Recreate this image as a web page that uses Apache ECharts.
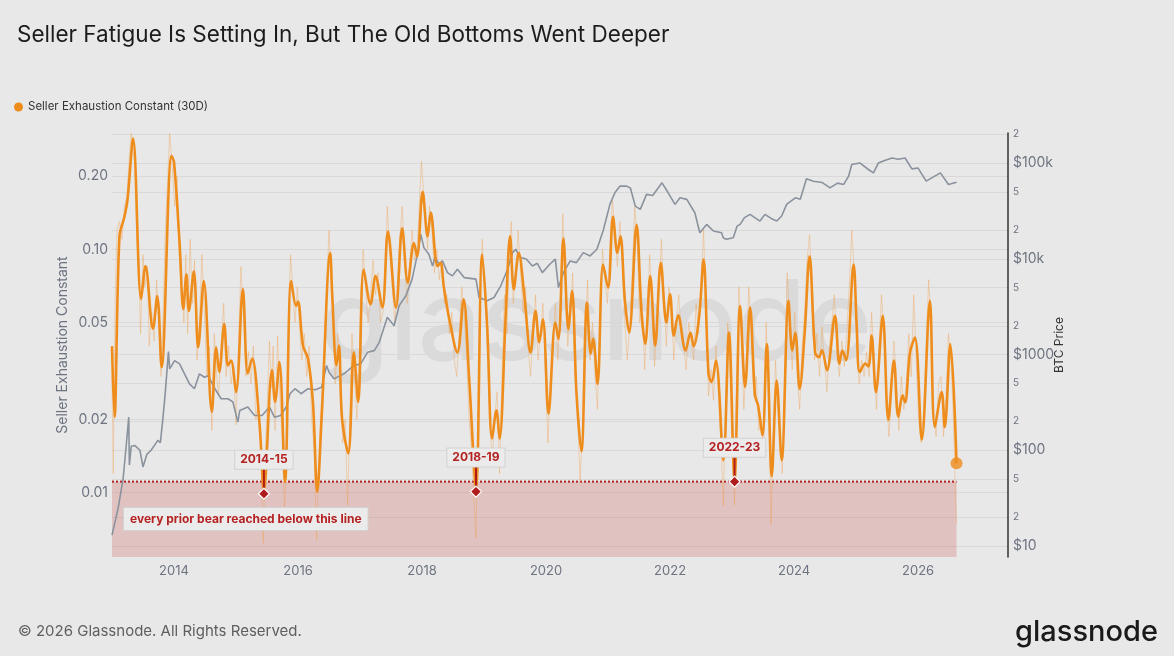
<!DOCTYPE html>
<html>
<head>
<meta charset="utf-8">
<title>Seller Fatigue</title>
<script src="https://cdn.jsdelivr.net/npm/echarts@6/dist/echarts.min.js"></script>
<style>
  html, body { margin: 0; padding: 0; background: #e8e8e8; }
  #chart { width: 1174px; height: 656px; }
</style>
</head>
<body>
<div id="chart"></div>
<script>
// Seller Exhaustion Constant, 30D smoothed (decimal year, value)
const SEC_30D = [
  [2013.00,0.040],[2013.04,0.0205],[2013.12,0.113],[2013.20,0.136],[2013.25,0.160],[2013.34,0.285],
  [2013.47,0.0625],[2013.54,0.0853],[2013.66,0.0472],[2013.73,0.0643],[2013.80,0.0328],[2013.96,0.242],
  [2014.00,0.228],[2014.09,0.106],[2014.15,0.0569],[2014.20,0.079],[2014.24,0.0558],[2014.32,0.0813],
  [2014.39,0.0396],[2014.48,0.074],[2014.61,0.0215],[2014.68,0.0396],[2014.73,0.0313],[2014.81,0.0493],
  [2014.87,0.0333],[2014.92,0.0349],[2015.00,0.0259],[2015.11,0.0687],[2015.19,0.0309],[2015.26,0.0356],
  [2015.38,0.0190],[2015.45,0.0102],[2015.58,0.0318],[2015.63,0.0236],[2015.70,0.0344],[2015.79,0.0111],
  [2015.89,0.074],[2015.97,0.0585],[2016.00,0.061],[2016.08,0.0402],[2016.16,0.0356],[2016.24,0.0236],
  [2016.31,0.0101],[2016.38,0.0202],[2016.52,0.0966],[2016.55,0.0663],[2016.62,0.0333],[2016.66,0.0402],
  [2016.71,0.0202],[2016.81,0.0145],[2016.90,0.0377],[2016.97,0.0236],[2017.06,0.0826],[2017.17,0.0595],
  [2017.25,0.0776],[2017.36,0.0576],[2017.45,0.1184],[2017.58,0.0576],[2017.68,0.122],[2017.77,0.0729],
  [2017.87,0.106],[2017.92,0.0935],[2018.01,0.1725],[2018.09,0.113],[2018.14,0.1416],[2018.25,0.0853],
  [2018.30,0.088],[2018.35,0.0706],[2018.44,0.0516],[2018.57,0.0377],[2018.67,0.0623],[2018.76,0.0294],
  [2018.87,0.0104],[2018.97,0.0951],[2019.05,0.0485],[2019.13,0.0167],[2019.20,0.0218],[2019.25,0.0167],
  [2019.35,0.0541],[2019.42,0.113],[2019.48,0.0685],[2019.56,0.0966],[2019.65,0.0643],[2019.75,0.0377],
  [2019.83,0.0558],[2019.89,0.0415],[2019.95,0.0516],[2020.04,0.0211],[2020.15,0.050],[2020.20,0.0428],
  [2020.28,0.111],[2020.36,0.047],[2020.42,0.0674],[2020.49,0.0259],[2020.57,0.0148],[2020.66,0.0604],
  [2020.72,0.0372],[2020.76,0.043],[2020.83,0.0280],[2020.92,0.0866],[2021.00,0.0695],[2021.08,0.136],
  [2021.15,0.0966],[2021.20,0.113],[2021.27,0.0623],[2021.34,0.0455],[2021.46,0.126],[2021.54,0.0549],
  [2021.60,0.0408],[2021.68,0.0776],[2021.76,0.0402],[2021.85,0.088],[2021.94,0.050],[2022.00,0.0653],
  [2022.06,0.0442],[2022.13,0.0536],[2022.25,0.0384],[2022.33,0.0455],[2022.38,0.040],[2022.47,0.0533],
  [2022.54,0.0908],[2022.62,0.0308],[2022.67,0.0285],[2022.74,0.0349],[2022.86,0.0136],[2022.95,0.0455],
  [2023.04,0.0113],[2023.13,0.0585],[2023.21,0.0272],[2023.29,0.0576],[2023.37,0.0251],[2023.42,0.0228],
  [2023.49,0.0172],[2023.56,0.0408],[2023.64,0.0117],[2023.72,0.0289],[2023.80,0.0136],[2023.91,0.0614],
  [2023.97,0.0384],[2024.02,0.0455],[2024.09,0.0267],[2024.17,0.045],[2024.25,0.0935],[2024.34,0.0377],
  [2024.40,0.0360],[2024.45,0.0385],[2024.53,0.0318],[2024.66,0.0533],[2024.73,0.0339],[2024.78,0.0384],
  [2024.84,0.035],[2024.96,0.0866],[2025.01,0.0485],[2025.06,0.0313],[2025.15,0.0339],[2025.20,0.033],
  [2025.25,0.0442],[2025.32,0.0259],[2025.43,0.0533],[2025.52,0.0199],[2025.61,0.0349],[2025.68,0.0205],
  [2025.75,0.0251],[2025.79,0.0235],[2025.87,0.0377],[2025.95,0.0434],[2026.06,0.0165],[2026.19,0.0614],
  [2026.27,0.0186],[2026.38,0.0259],[2026.43,0.0186],[2026.52,0.0408],[2026.62,0.0132]
];

// raw daily values (faint line)
const SEC_RAW = [
  [2013.00,0.030],[2013.02,0.012],[2013.05,0.060],[2013.08,0.120],[2013.12,0.130],[2013.16,0.110],
  [2013.20,0.150],[2013.24,0.165],[2013.28,0.240],[2013.31,0.300],[2013.34,0.300],[2013.37,0.220],
  [2013.40,0.110],[2013.43,0.090],[2013.46,0.045],[2013.50,0.095],[2013.53,0.070],[2013.57,0.085],
  [2013.60,0.040],[2013.64,0.055],[2013.68,0.042],[2013.72,0.075],[2013.76,0.045],[2013.79,0.030],
  [2013.83,0.060],[2013.86,0.120],[2013.90,0.200],[2013.93,0.300],[2013.97,0.220],[2014.01,0.150],
  [2014.05,0.200],[2014.08,0.100],[2014.12,0.070],[2014.16,0.050],[2014.19,0.095],[2014.22,0.045],
  [2014.26,0.110],[2014.30,0.060],[2014.33,0.090],[2014.37,0.035],[2014.41,0.050],[2014.45,0.095],
  [2014.49,0.055],[2014.53,0.030],[2014.57,0.040],[2014.61,0.018],[2014.65,0.045],[2014.69,0.030],
  [2014.72,0.025],[2014.76,0.040],[2014.80,0.060],[2014.84,0.030],[2014.88,0.040],[2014.92,0.028],
  [2014.96,0.033],[2015.00,0.019],[2015.04,0.040],[2015.08,0.085],[2015.12,0.055],[2015.16,0.030],
  [2015.20,0.038],[2015.24,0.028],[2015.28,0.040],[2015.32,0.020],[2015.36,0.024],[2015.40,0.015],
  [2015.44,0.0062],[2015.47,0.014],[2015.50,0.022],[2015.54,0.042],[2015.57,0.027],[2015.60,0.040],
  [2015.63,0.018],[2015.67,0.044],[2015.71,0.024],[2015.75,0.016],[2015.78,0.0085],[2015.81,0.012],
  [2015.85,0.060],[2015.88,0.095],[2015.92,0.065],[2015.95,0.050],[2015.99,0.070],[2016.02,0.050],
  [2016.06,0.035],[2016.10,0.045],[2016.14,0.030],[2016.18,0.040],[2016.22,0.020],[2016.26,0.015],
  [2016.30,0.0064],[2016.33,0.012],[2016.37,0.022],[2016.41,0.030],[2016.45,0.060],[2016.50,0.120],
  [2016.53,0.080],[2016.57,0.055],[2016.60,0.028],[2016.64,0.045],[2016.68,0.030],[2016.72,0.016],
  [2016.76,0.020],[2016.80,0.0089],[2016.83,0.018],[2016.87,0.045],[2016.91,0.030],[2016.95,0.020],
  [2016.98,0.030],[2017.02,0.070],[2017.05,0.100],[2017.09,0.070],[2017.13,0.050],[2017.17,0.065],
  [2017.21,0.090],[2017.25,0.065],[2017.29,0.080],[2017.33,0.050],[2017.37,0.055],[2017.41,0.090],
  [2017.44,0.150],[2017.48,0.100],[2017.52,0.070],[2017.56,0.050],[2017.60,0.070],[2017.64,0.110],
  [2017.68,0.150],[2017.72,0.090],[2017.76,0.060],[2017.80,0.085],[2017.84,0.120],[2017.88,0.090],
  [2017.92,0.100],[2017.95,0.140],[2017.99,0.230],[2018.02,0.180],[2018.06,0.130],[2018.09,0.100],
  [2018.12,0.150],[2018.16,0.120],[2018.20,0.080],[2018.24,0.100],[2018.28,0.075],[2018.32,0.090],
  [2018.36,0.060],[2018.40,0.065],[2018.44,0.045],[2018.48,0.055],[2018.52,0.035],[2018.56,0.030],
  [2018.60,0.045],[2018.64,0.070],[2018.68,0.055],[2018.72,0.035],[2018.76,0.020],[2018.80,0.015],
  [2018.84,0.009],[2018.87,0.0065],[2018.90,0.020],[2018.94,0.060],[2018.97,0.110],[2019.01,0.070],
  [2019.05,0.040],[2019.09,0.022],[2019.13,0.013],[2019.17,0.020],[2019.21,0.026],[2019.25,0.012],
  [2019.29,0.030],[2019.33,0.065],[2019.37,0.045],[2019.41,0.100],[2019.44,0.130],[2019.47,0.060],
  [2019.51,0.080],[2019.55,0.120],[2019.59,0.080],[2019.63,0.055],[2019.67,0.070],[2019.71,0.040],
  [2019.75,0.030],[2019.79,0.045],[2019.83,0.065],[2019.87,0.035],[2019.91,0.045],[2019.95,0.060],
  [2019.99,0.030],[2020.03,0.016],[2020.07,0.028],[2020.11,0.040],[2020.15,0.060],[2020.19,0.035],
  [2020.23,0.060],[2020.27,0.140],[2020.31,0.075],[2020.35,0.040],[2020.39,0.055],[2020.43,0.080],
  [2020.47,0.030],[2020.51,0.020],[2020.55,0.011],[2020.59,0.020],[2020.63,0.045],[2020.67,0.075],
  [2020.71,0.035],[2020.75,0.050],[2020.79,0.030],[2020.83,0.022],[2020.87,0.050],[2020.91,0.100],
  [2020.95,0.075],[2020.99,0.060],[2021.03,0.100],[2021.07,0.160],[2021.11,0.120],[2021.15,0.085],
  [2021.19,0.130],[2021.23,0.090],[2021.27,0.050],[2021.31,0.035],[2021.35,0.050],[2021.39,0.080],
  [2021.43,0.150],[2021.47,0.110],[2021.51,0.050],[2021.55,0.060],[2021.59,0.032],[2021.63,0.050],
  [2021.67,0.095],[2021.71,0.060],[2021.75,0.033],[2021.79,0.050],[2021.83,0.075],[2021.86,0.110],
  [2021.90,0.065],[2021.94,0.040],[2021.98,0.070],[2022.02,0.060],[2022.06,0.035],[2022.10,0.050],
  [2022.14,0.065],[2022.18,0.045],[2022.22,0.040],[2022.26,0.032],[2022.30,0.050],[2022.34,0.042],
  [2022.38,0.035],[2022.42,0.060],[2022.46,0.045],[2022.50,0.070],[2022.54,0.120],[2022.58,0.060],
  [2022.62,0.025],[2022.66,0.032],[2022.70,0.024],[2022.74,0.040],[2022.78,0.025],[2022.82,0.016],
  [2022.86,0.0088],[2022.89,0.020],[2022.93,0.050],[2022.96,0.035],[2023.00,0.016],[2023.04,0.0089],
  [2023.07,0.025],[2023.11,0.070],[2023.15,0.045],[2023.19,0.022],[2023.23,0.035],[2023.27,0.070],
  [2023.31,0.045],[2023.35,0.025],[2023.39,0.030],[2023.43,0.018],[2023.47,0.020],[2023.51,0.014],
  [2023.55,0.050],[2023.59,0.025],[2023.63,0.0074],[2023.66,0.015],[2023.70,0.035],[2023.74,0.022],
  [2023.78,0.016],[2023.81,0.012],[2023.85,0.030],[2023.89,0.080],[2023.93,0.050],[2023.97,0.032],
  [2024.01,0.055],[2024.05,0.030],[2024.09,0.022],[2024.13,0.040],[2024.17,0.055],[2024.21,0.090],
  [2024.25,0.115],[2024.29,0.070],[2024.33,0.035],[2024.37,0.045],[2024.41,0.030],[2024.45,0.048],
  [2024.49,0.035],[2024.53,0.026],[2024.57,0.040],[2024.61,0.050],[2024.65,0.065],[2024.69,0.040],
  [2024.73,0.030],[2024.77,0.042],[2024.81,0.033],[2024.85,0.045],[2024.89,0.070],[2024.93,0.120],
  [2024.97,0.080],[2025.01,0.040],[2025.05,0.028],[2025.09,0.035],[2025.13,0.030],[2025.17,0.038],
  [2025.21,0.030],[2025.25,0.055],[2025.29,0.035],[2025.33,0.022],[2025.37,0.040],[2025.41,0.065],
  [2025.45,0.045],[2025.49,0.025],[2025.53,0.017],[2025.57,0.025],[2025.61,0.042],[2025.65,0.030],
  [2025.69,0.018],[2025.73,0.030],[2025.77,0.022],[2025.81,0.028],[2025.85,0.045],[2025.89,0.030],
  [2025.93,0.065],[2025.97,0.035],[2026.01,0.020],[2026.05,0.016],[2026.09,0.022],[2026.13,0.040],
  [2026.17,0.075],[2026.21,0.050],[2026.25,0.022],[2026.29,0.017],[2026.33,0.028],[2026.37,0.030],
  [2026.41,0.017],[2026.45,0.025],[2026.49,0.045],[2026.53,0.035],[2026.57,0.020],[2026.60,0.010],
  [2026.62,0.0075]
];

// BTC price in USD (decimal year, price)
const BTC_PRICE = [
  [2013.00,13],[2013.10,25],[2013.18,51],[2013.23,113],[2013.27,222],[2013.28,70],[2013.31,110],
  [2013.37,112],[2013.45,100],[2013.50,67],[2013.56,90],[2013.63,100],[2013.74,127],[2013.78,120],
  [2013.82,213],[2013.86,405],[2013.91,1075],[2013.93,710],[2014.01,866],[2014.09,800],[2014.17,630],
  [2014.25,495],[2014.33,440],[2014.41,630],[2014.49,580],[2014.55,600],[2014.66,440],[2014.76,346],
  [2014.87,346],[2014.95,320],[2015.03,197],[2015.06,261],[2015.19,283],[2015.30,231],[2015.42,231],
  [2015.54,283],[2015.62,222],[2015.72,231],[2015.81,283],[2015.87,390],[2015.95,440],[2016.05,390],
  [2016.16,440],[2016.28,430],[2016.38,457],[2016.46,768],[2016.50,655],[2016.58,558],[2016.74,630],
  [2016.90,768],[2017.01,800],[2017.12,1057],[2017.23,1100],[2017.31,1343],[2017.44,2450],[2017.55,2005],
  [2017.63,3240],[2017.74,4120],[2017.84,6150],[2017.92,10750],[2017.98,18080],[2018.03,13120],
  [2018.11,11190],[2018.17,8450],[2018.21,10500],[2018.27,8800],[2018.33,9530],[2018.41,7190],
  [2018.49,6650],[2018.57,7800],[2018.68,6380],[2018.87,6150],[2018.92,3950],[2019.05,3650],
  [2019.16,3950],[2019.27,5235],[2019.38,7800],[2019.46,11640],[2019.51,12620],[2019.59,10330],
  [2019.68,10000],[2019.78,8450],[2019.86,9000],[2019.94,7190],[2020.06,8800],[2020.15,9930],
  [2020.20,5020],[2020.28,7190],[2020.39,9530],[2020.49,9150],[2020.60,11640],[2020.71,10750],
  [2020.82,12620],[2020.92,19570],[2021.03,37150],[2021.11,49100],[2021.19,57600],[2021.30,57600],
  [2021.36,55000],[2021.44,35650],[2021.52,32950],[2021.62,47250],[2021.72,46000],[2021.87,62400],
  [2021.97,49100],[2022.08,37150],[2022.16,43550],[2022.27,41880],[2022.40,30350],[2022.48,18800],
  [2022.59,22950],[2022.70,19570],[2022.83,18800],[2022.86,16500],[2022.91,16030],[2023.02,16660],
  [2023.08,22000],[2023.13,22950],[2023.20,27000],[2023.29,29200],[2023.45,24870],[2023.53,29200],
  [2023.63,26500],[2023.72,24870],[2023.80,28050],[2023.88,37150],[2024.02,43550],[2024.10,42000],
  [2024.20,68700],[2024.31,64930],[2024.45,63000],[2024.58,55300],[2024.70,62000],[2024.80,60000],
  [2024.88,73200],[2024.93,96900],[2025.06,100700],[2025.20,86000],[2025.28,79300],[2025.36,100700],
  [2025.45,106000],[2025.58,113500],[2025.68,110000],[2025.79,113500],[2025.90,87300],[2026.00,89000],
  [2026.13,64930],[2026.22,70300],[2026.36,79300],[2026.49,60000],[2026.62,63400]
];

const THRESHOLD = 0.0111;
const BEAR_LABELS = ['2014-15', '2018-19', '2022-23'];
const BEAR_YEARS = [2015.45, 2018.87, 2023.04];
const BEAR_VALUES = [0.0099, 0.0101, 0.0111];

const SEC_TICKS = [0.01, 0.02, 0.05, 0.1, 0.2];
const BTC_TICKS = [10, 20, 50, 100, 200, 500, 1000, 2000, 5000, 10000, 20000, 50000, 100000, 200000];
const YEAR_LABELS = [2014, 2016, 2018, 2020, 2022, 2024, 2026];

const lg = Math.log10;
const ORANGE = '#ee8c1c';
const DARK_RED = '#b01c1c';
const AXIS_GREY = '#6d7380';

const lastSec = SEC_30D[SEC_30D.length - 1];
const secLog = SEC_30D.map(d => [d[0], lg(d[1])]);
const rawLog = SEC_RAW.map(d => [d[0], lg(d[1])]);
const btcLog = BTC_PRICE.map(d => [d[0], lg(d[1])]);
const bears = BEAR_YEARS.map((y, i) => [y, lg(BEAR_VALUES[i])]);

const Y_MIN = lg(0.00544), Y_MAX = lg(0.3006);
const P_MIN = lg(7.67), P_MAX = lg(207000);

function priceLabel(v) {
  const p = Math.round(Math.pow(10, v));
  const major = { 10: '$10', 100: '$100', 1000: '$1000', 10000: '$10k', 100000: '$100k' };
  if (major[p]) return '{m|' + major[p] + '}';
  const lead = Math.round(p / Math.pow(10, Math.floor(lg(p) + 1e-9)));
  return '{s|' + lead + '}';
}

function renderBear(params, api) {
  const pt = api.coord([api.value(0), api.value(1)]);
  const x = pt[0], y = pt[1], r = 5.5;
  return {
    type: 'group',
    children: [
      { type: 'line', shape: { x1: x, y1: y, x2: x, y2: y - 26 },
        style: { stroke: DARK_RED, lineWidth: 2 } },
      { type: 'polygon', shape: { points: [[x, y - r], [x + r, y], [x, y + r], [x - r, y]] },
        style: { fill: DARK_RED, stroke: '#ffffff', lineWidth: 1.2 } },
      { type: 'text', x: x, y: y - 34,
        style: { text: BEAR_LABELS[params.dataIndex], fill: '#b52222',
          font: 'bold 12px Inter, "Noto Sans", sans-serif', align: 'center', verticalAlign: 'middle',
          backgroundColor: '#ebebeb', borderColor: '#d2d2d2', borderWidth: 1, padding: [3, 5] } }
    ]
  };
}

const chart = echarts.init(document.getElementById('chart'), null, { renderer: 'canvas' });

chart.setOption({
  backgroundColor: '#e8e8e8',
  animation: false,
  textStyle: { fontFamily: 'Inter, "Noto Sans", sans-serif' },
  title: {
    text: 'Seller Fatigue Is Setting In, But The Old Bottoms Went Deeper',
    left: 12, top: 19,
    textStyle: { fontSize: 22.5, fontWeight: 'normal', color: '#1c1c1c', fontFamily: 'Inter, sans-serif' }
  },
  legend: {
    left: 9, top: 96, icon: 'circle', itemWidth: 9, itemHeight: 9, itemGap: 10,
    data: ['Seller Exhaustion Constant (30D)'],
    textStyle: { fontSize: 11.5, color: '#333' }
  },
  grid: { left: 112, right: 166, top: 133, bottom: 99, containLabel: false },
  xAxis: {
    type: 'value', min: 2013, max: 2027.45, interval: 1,
    axisLine: { show: false }, axisTick: { show: false }, splitLine: { show: false },
    axisLabel: {
      color: AXIS_GREY, fontSize: 13, margin: 8,
      formatter: v => (YEAR_LABELS.indexOf(v) >= 0 ? String(v) : '')
    }
  },
  yAxis: [
    {
      type: 'value', min: Y_MIN, max: Y_MAX, position: 'left',
      name: 'Seller Exhaustion Constant', nameLocation: 'middle', nameGap: 42, nameRotate: 90,
      nameMoveOverlap: false,
      nameTextStyle: { color: AXIS_GREY, fontSize: 14 },
      axisLine: { show: false },
      axisTick: { show: false, customValues: SEC_TICKS.map(lg) },
      axisLabel: { color: AXIS_GREY, fontSize: 14, margin: 4,
        customValues: SEC_TICKS.map(lg),
        formatter: v => Math.pow(10, v).toFixed(2) },
      splitLine: { show: true, lineStyle: { color: '#d9d9d9', width: 1 } }
    },
    {
      type: 'value', min: P_MIN, max: P_MAX, position: 'right',
      name: 'BTC Price', nameLocation: 'middle', nameGap: 45, nameRotate: 90,
      nameMoveOverlap: false,
      nameTextStyle: { color: '#333', fontSize: 12 },
      axisLine: { show: true, lineStyle: { color: '#333', width: 1.5 } },
      axisTick: { show: false, customValues: BTC_TICKS.map(lg) },
      axisLabel: { margin: 5, customValues: BTC_TICKS.map(lg), formatter: priceLabel,
        rich: { m: { fontSize: 14, color: AXIS_GREY }, s: { fontSize: 10, color: AXIS_GREY } } },
      splitLine: { show: true, lineStyle: { color: '#d9d9d9', width: 1 } }
    }
  ],
  graphic: [
    { type: 'text', x: 596, y: 326, z: -1, silent: true,
      style: { text: 'glassnode', fill: '#dadada', font: '500 112px Inter, sans-serif',
        align: 'center', verticalAlign: 'middle' } },
    { type: 'text', x: 124, y: 508, z: 10,
      style: { text: 'every prior bear reached below this line', fill: '#b52222',
        font: 'bold 12px Inter, "Noto Sans", sans-serif',
        backgroundColor: '#ebebeb', borderColor: '#d2d2d2', borderWidth: 1, padding: [5, 6] } },
    { type: 'text', x: 18, y: 631,
      style: { text: '\u00a9 2026 Glassnode. All Rights Reserved.', fill: '#5f5f5f',
        font: '15px Inter, sans-serif', verticalAlign: 'middle' } },
    { type: 'text', x: 1158, y: 632,
      style: { text: 'glassnode', fill: '#1a1a1a', font: '500 29px Inter, sans-serif',
        align: 'right', verticalAlign: 'middle' } }
  ],
  series: [
    {
      name: 'threshold', type: 'line', z: 1, yAxisIndex: 0, silent: true,
      data: [[2013, lg(THRESHOLD)], [lastSec[0], lg(THRESHOLD)]],
      symbol: 'none',
      lineStyle: { color: '#b22222', width: 2, type: 'dotted' },
      markArea: {
        silent: true,
        itemStyle: { color: 'rgba(200,80,70,0.25)' },
        data: [[{ xAxis: 2013, yAxis: Y_MIN }, { xAxis: lastSec[0], yAxis: lg(THRESHOLD) }]]
      }
    },
    {
      name: 'raw', type: 'line', z: 2, yAxisIndex: 0, silent: true,
      data: rawLog, symbol: 'none',
      lineStyle: { color: 'rgba(238,160,80,0.38)', width: 1 }
    },
    {
      name: 'BTC Price', type: 'line', z: 3, yAxisIndex: 1, silent: true,
      data: btcLog, symbol: 'none',
      lineStyle: { color: '#8a929e', width: 1.6 }
    },
    {
      name: 'Seller Exhaustion Constant (30D)', type: 'line', z: 4, yAxisIndex: 0,
      data: secLog, symbol: 'none', smooth: 0.35,
      itemStyle: { color: ORANGE },
      lineStyle: { color: ORANGE, width: 2.6 }
    },
    {
      name: 'last', type: 'scatter', z: 5, yAxisIndex: 0,
      data: [[lastSec[0], lg(lastSec[1])]],
      symbol: 'circle', symbolSize: 12, itemStyle: { color: ORANGE }
    },
    {
      name: 'bears', type: 'custom', z: 6, yAxisIndex: 0,
      data: bears, renderItem: renderBear
    }
  ]
});
</script>
</body>
</html>
